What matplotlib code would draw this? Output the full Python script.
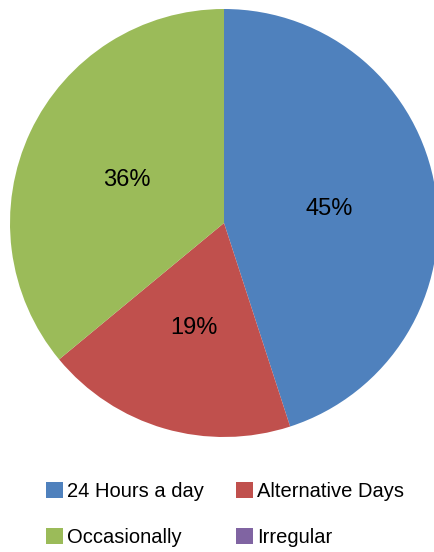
import matplotlib
matplotlib.use("Agg")
import matplotlib.pyplot as plt
from matplotlib.patches import Patch

categories = ["24 Hours a day", "Alternative Days", "Occasionally", "Irregular"]
shares = [45, 19, 36, 0]
colors = ["#4F81BD", "#C0504D", "#9BBB59", "#8064A2"]

plt.rcParams["font.family"] = ["Liberation Sans", "DejaVu Sans"]

W, H = 435, 552
fig = plt.figure(figsize=(W / 100, H / 100), dpi=100)
cx, cy, r = 224, 223, 214
ax = fig.add_axes([(cx - r) / W, (H - cy - r) / H, 2 * r / W, 2 * r / H])


def pct_label(p):
    return f"{p:.0f}%" if p > 0.5 else ""


wedges, texts, autotexts = ax.pie(
    shares, colors=colors, startangle=90, counterclock=False, radius=1,
    autopct=pct_label, pctdistance=0.5,
    wedgeprops=dict(linewidth=0),
    textprops=dict(fontsize=17, color="black", verticalalignment="center_baseline"),
)
ax.set_xlim(-1, 1)
ax.set_ylim(-1, 1)
ax.set_aspect("equal")
ax.axis("off")

# two-column legend filled row by row
order = [0, 2, 1, 3]
handles = [Patch(facecolor=colors[i], edgecolor="none") for i in order]
labels = [categories[i] for i in order]
fig.legend(handles, labels, loc="upper left", bbox_to_anchor=(46 / W, 1 - 482 / H),
           ncol=2, frameon=False, fontsize=14.5, handlelength=0.85, handleheight=0.85,
           handletextpad=0.2, columnspacing=1.6, labelspacing=1.35,
           borderpad=0, borderaxespad=0)

fig.savefig("out.png", dpi=100)
